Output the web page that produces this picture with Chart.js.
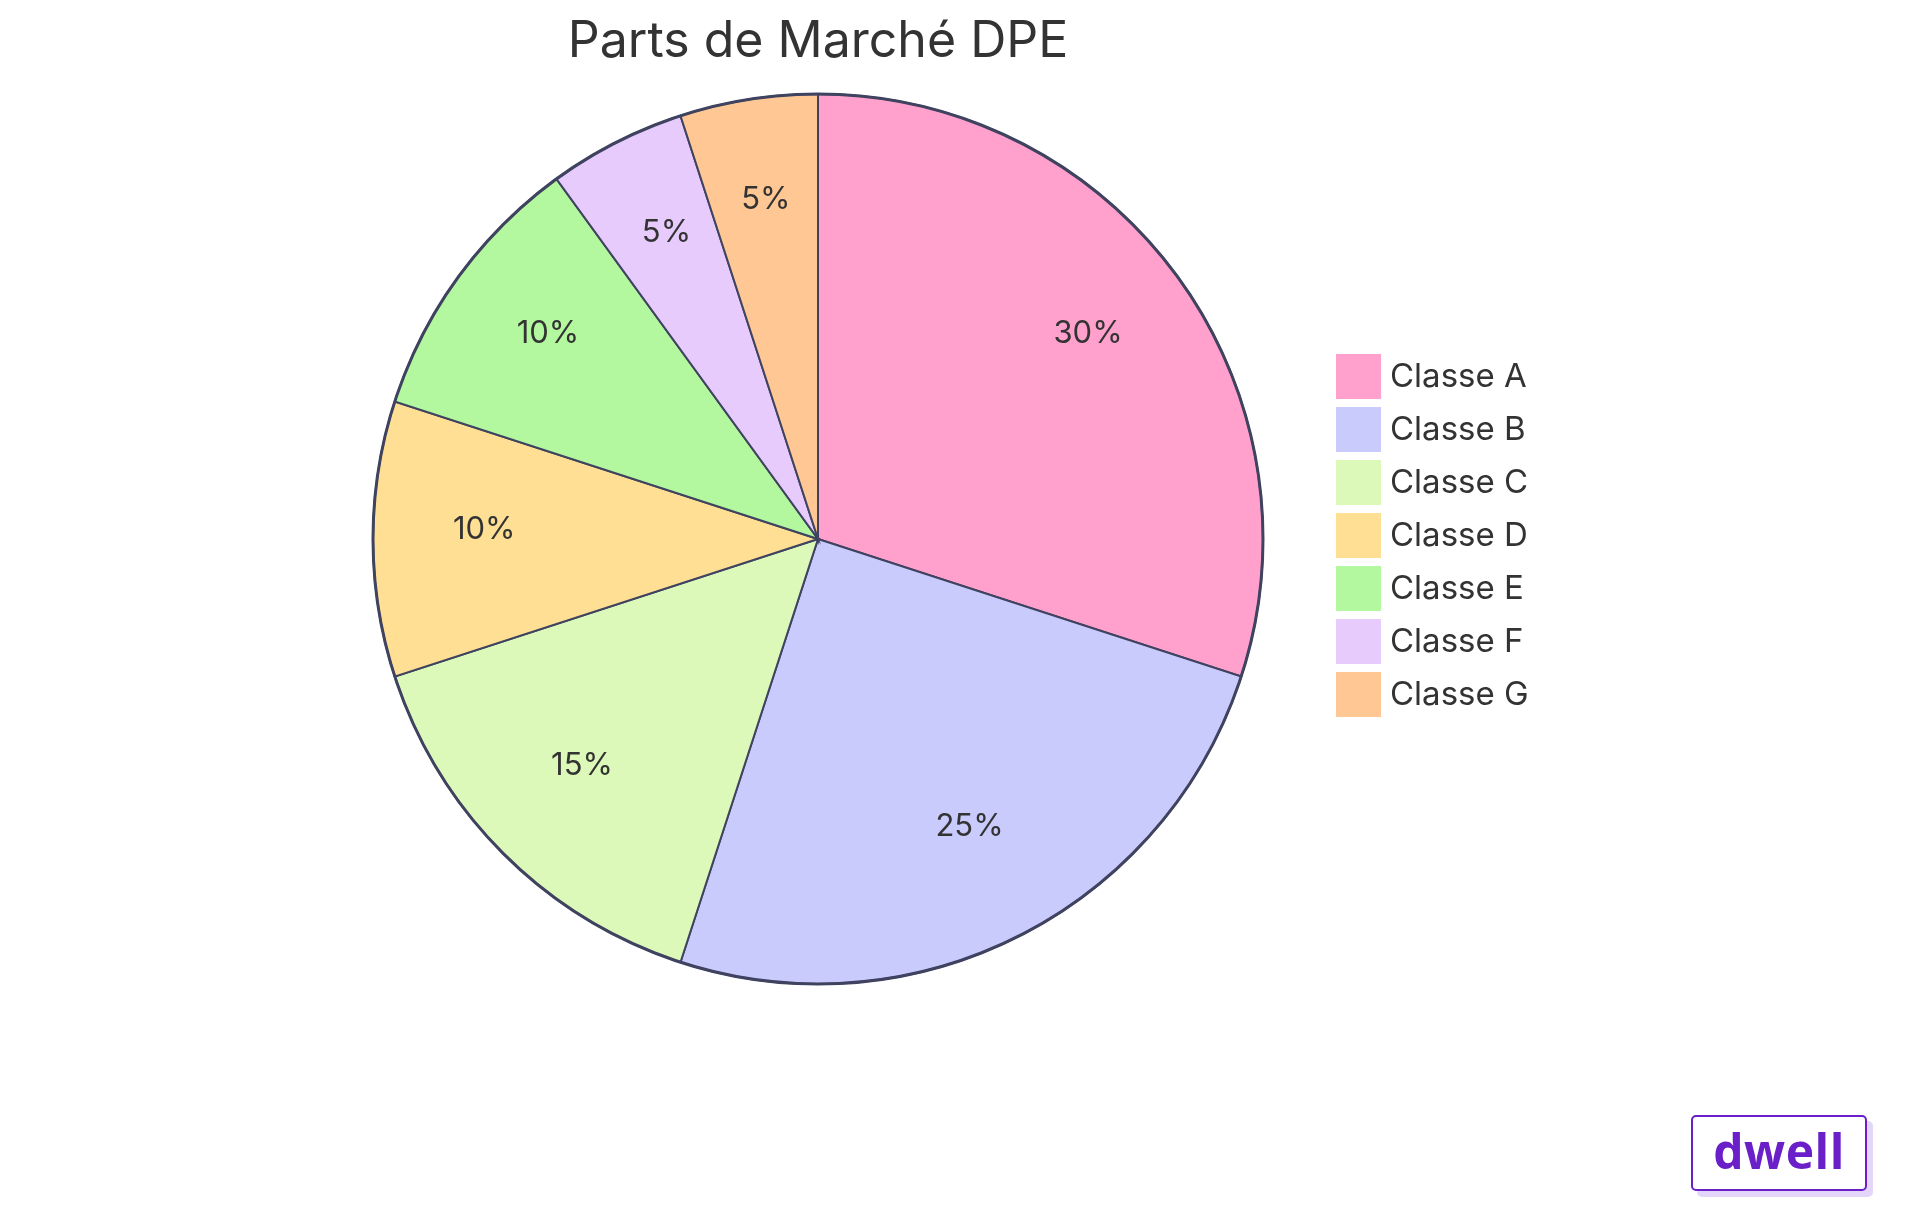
<!DOCTYPE html>
<html><head><meta charset="utf-8">
<script src="https://cdn.jsdelivr.net/npm/chart.js@4.4.1/dist/chart.umd.min.js"></script>
<style>
html,body{margin:0;padding:0;background:#fff;}
#wrap{position:relative;width:1920px;height:1215px;}
#logo{position:absolute;left:1691px;top:1115px;width:176px;height:76px;border:2px solid #6a1fc8;border-radius:5px;background:#fff;box-shadow:6px 6px 0 #e3d6fa;box-sizing:border-box;display:flex;align-items:center;justify-content:center;font-family:'Open Sans',sans-serif;font-weight:700;font-size:48px;color:#6a1fc8;letter-spacing:0.5px;padding-bottom:6px;}
</style></head>
<body><div id="wrap"><canvas id="c" width="1920" height="1215"></canvas><div id="logo">dwell</div></div>
<script>
const titleText = 'Parts de Marché DPE';
const categories = ['Classe A','Classe B','Classe C','Classe D','Classe E','Classe F','Classe G'];
const shares = [30, 25, 15, 10, 10, 5, 5];
const colors = ['#FFA1CC','#CACBFD','#DCF9B9','#FFDF94','#B3F79E','#E6CBFC','#FFC794'];

const overlay = {
  id:'overlay',
  afterDatasetsDraw(chart){
    const ctx = chart.ctx;
    const meta = chart.getDatasetMeta(0);
    ctx.save();
    ctx.font = '400 31px Inter';
    ctx.fillStyle = '#333333';
    ctx.textAlign = 'center';
    ctx.textBaseline = 'alphabetic';
    meta.data.forEach((arc,i)=>{
      const p = arc.getProps(['x','y','startAngle','endAngle','outerRadius'],true);
      const a = (p.startAngle+p.endAngle)/2;
      const r = p.outerRadius*0.75;
      ctx.fillText(shares[i]+'%', p.x+Math.cos(a)*r, p.y+Math.sin(a)*r);
    });
    // outer ring
    const p0 = meta.data[0].getProps(['x','y','outerRadius'],true);
    ctx.beginPath();
    ctx.arc(p0.x,p0.y,p0.outerRadius,0,Math.PI*2);
    ctx.lineWidth = 3;
    ctx.strokeStyle = '#3f4360';
    ctx.stroke();
    // legend
    ctx.textAlign = 'left';
    ctx.textBaseline = 'middle';
    ctx.font = '400 33px Inter';
    categories.forEach((c,i)=>{
      const y = 354 + i*53;
      ctx.fillStyle = colors[i];
      ctx.fillRect(1336, y, 45, 45);
      ctx.fillStyle = '#333333';
      ctx.fillText(c, 1390, y+23);
    });
    ctx.restore();
  }
};

new Chart(document.getElementById('c'), {
  type:'pie',
  data:{labels:categories, datasets:[{data:shares, backgroundColor:colors, borderColor:'#3f4360', borderWidth:2, radius:445, borderJoinStyle:'miter'}]},
  options:{
    responsive:false, animation:false,
    layout:{padding:{top:12,right:284,left:0,bottom:219}},
    plugins:{
      legend:{display:false},
      tooltip:{enabled:false},
      title:{display:true,text:titleText,color:'#333333',font:{family:'Inter',size:50,weight:'400',lineHeight:1.2},padding:{top:0,bottom:10}}
    }
  },
  plugins:[overlay]
});
</script></body></html>
